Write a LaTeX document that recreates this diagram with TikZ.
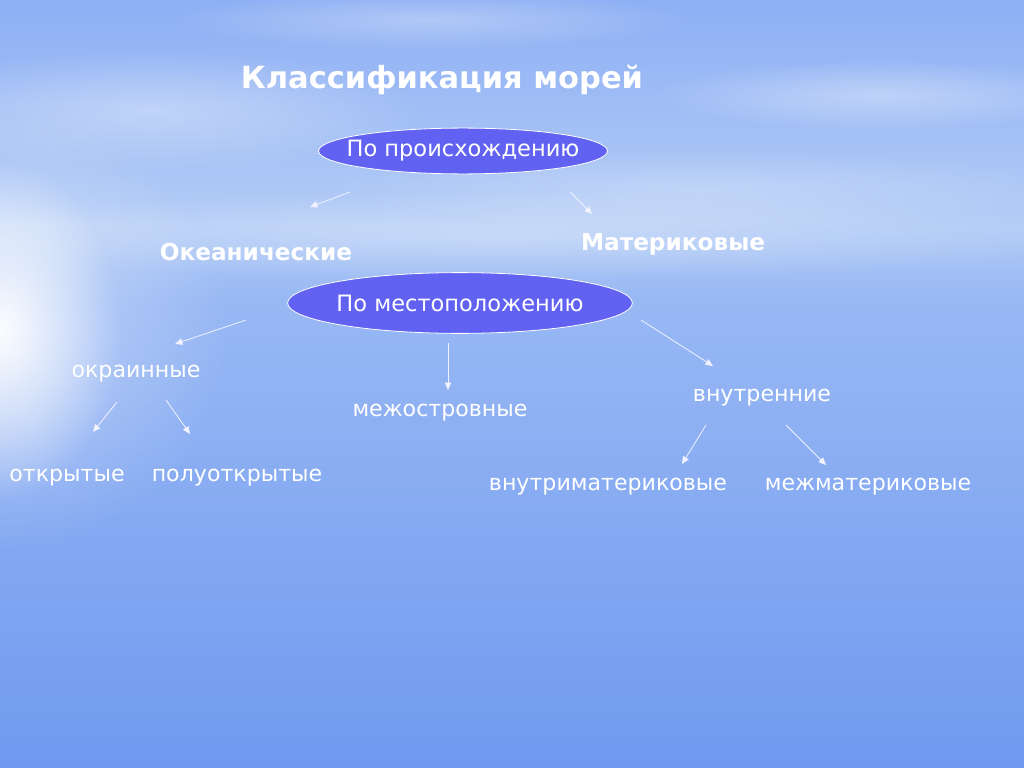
\documentclass[tikz,border=0pt]{standalone}
\usepackage{fontspec}
\setmainfont{DejaVu Sans}
\usetikzlibrary{shapes.geometric,arrows.meta,fadings}
\definecolor{ovalfill}{HTML}{6262F2}
\definecolor{bgA}{HTML}{8DAFF4}
\definecolor{bgB}{HTML}{B3CCF6}
\definecolor{bgC}{HTML}{98B8F4}
\definecolor{bgD}{HTML}{86AAF2}
\definecolor{bgE}{HTML}{6F9AF0}
\tikzfading[name=fuzzy, inner color=transparent!0, outer color=transparent!100]
\tikzset{
  oval/.style={ellipse, fill=ovalfill, draw=white, line width=0.8pt, text=white, inner sep=0pt,
    font=\fontsize{22.6}{26}\selectfont},
  lbl/.style={text=white, font=\fontsize{22.2}{26}\selectfont, inner sep=0pt},
  blbl/.style={text=white, font=\fontsize{23.3}{27}\selectfont\bfseries, inner sep=0pt},
  arr/.style={draw=white!95!blue, line width=0.8pt, -{Triangle[length=7.5pt,width=6.5pt]}},
  glow/.style={fill=white, path fading=fuzzy},
}
\begin{document}
\begin{tikzpicture}[x=1bp,y=-1bp]
\useasboundingbox (0,0) rectangle (1024,768);
% background
\shade[top color=bgA, bottom color=bgB] (0,0) rectangle (1024,225);
\shade[top color=bgB, bottom color=bgC] (0,225) rectangle (1024,300);
\shade[top color=bgC, bottom color=bgD] (0,300) rectangle (1024,520);
\shade[top color=bgD, bottom color=bgE] (0,520) rectangle (1024,768);
% clouds / glare
\fill[glow, opacity=0.35] (150,110) ellipse (280 and 60);
\fill[glow, opacity=0.30] (430,20) ellipse (260 and 30);
\fill[glow, opacity=0.35] (880,95) ellipse (230 and 35);
\fill[glow, opacity=0.25] (700,190) ellipse (380 and 40);
\fill[glow, opacity=0.30] (500,235) ellipse (600 and 45);
\fill[glow, opacity=0.95] (0,330) ellipse (120 and 170);
\fill[glow, opacity=0.4] (0,330) ellipse (230 and 220);

% title
\node[text=white, font=\fontsize{30.6}{35}\selectfont\bfseries, inner sep=0pt] (title) at (442,80) {Классификация морей};

% ellipses
\node[oval, minimum width=290, minimum height=46] (orig) at (463,151) {\makebox[0pt]{По происхождению}};
\node[oval, minimum width=346, minimum height=61] (loc) at (460,303) {\makebox[0pt]{По местоположению}};

% bold labels
\node[blbl] (ocean) at (256,252) {Океанические};
\node[blbl] (mat) at (673,244) {Материковые};

% other labels
\node[lbl] (okr) at (136,374) {окраинные};
\node[lbl] (mezho) at (440,413) {межостровные};
\node[lbl] (vnut) at (762,398) {внутренние};
\node[lbl] (otkr) at (67,478) {открытые};
\node[lbl] (poluo) at (237,478) {полуоткрытые};
\node[lbl] (vnmat) at (608,487) {внутриматериковые};
\node[lbl] (mezhm) at (868,487) {межматериковые};

% arrow end coordinates
\coordinate (a1s) at (350,192); \coordinate (a1e) at (310,207);
\coordinate (a2s) at (570,192); \coordinate (a2e) at (592,214);
\coordinate (a3s) at (246,320); \coordinate (a3e) at (175,344);
\coordinate (a4s) at (448,343); \coordinate (a4e) at (448,390);
\coordinate (a5s) at (641,320); \coordinate (a5e) at (713,366);
\coordinate (a6s) at (117,402); \coordinate (a6e) at (93,432);
\coordinate (a7s) at (166,400); \coordinate (a7e) at (190,434);
\coordinate (a8s) at (706,425); \coordinate (a8e) at (682,464);
\coordinate (a9s) at (786,425); \coordinate (a9e) at (826,465);

\foreach \i in {1,...,9} { \draw[arr] (a\i s) -- (a\i e); }
\end{tikzpicture}
\end{document}
